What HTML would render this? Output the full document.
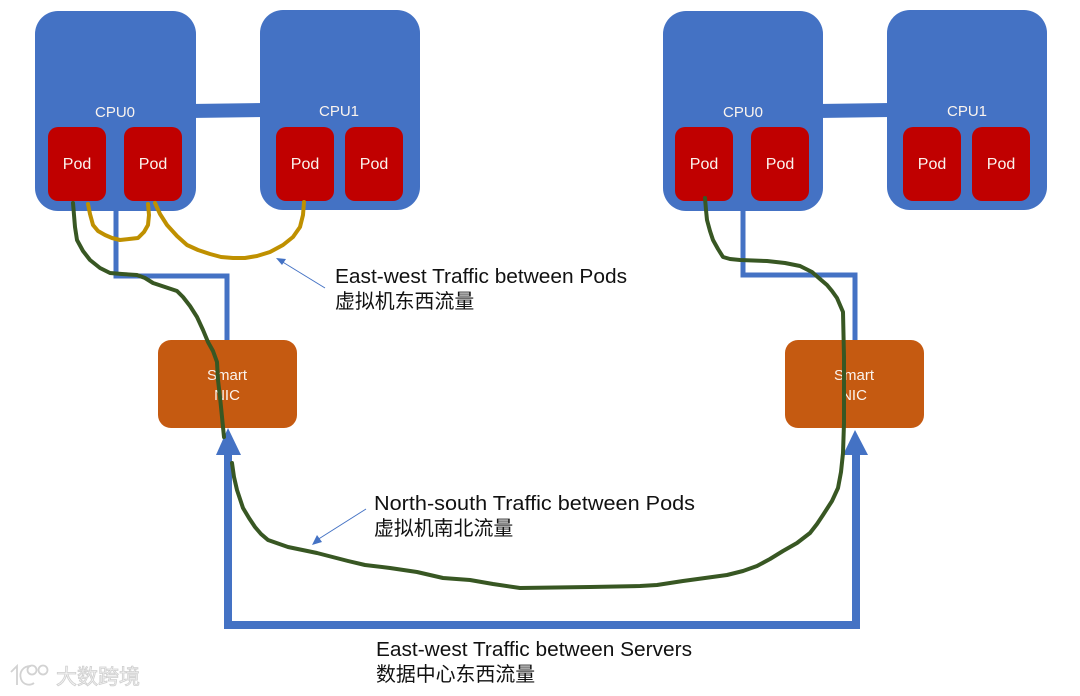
<!DOCTYPE html>
<html>
<head>
<meta charset="utf-8">
<style>
html,body{margin:0;padding:0;background:#fff}
svg{display:block;font-family:"Liberation Sans","Noto Sans CJK SC",sans-serif}
.w{fill:#fbf4ee;font-size:15px;text-anchor:middle}
.p{fill:#fbf4ee;font-size:16px;text-anchor:middle}
.l{fill:#111;font-size:20px}
.c{fill:#111;font-size:19.9px}
</style>
</head>
<body>
<svg width="1080" height="696" viewBox="0 0 1080 696" xmlns="http://www.w3.org/2000/svg">
<rect width="1080" height="696" fill="#fff"/>
<g fill="#4472C4">
<polygon points="190,104 265,103 265,117 190,118"/>
<polygon points="818,104 892,103 892,117 818,118"/>
<rect x="35" y="11" width="161" height="200" rx="23"/>
<rect x="260" y="10" width="160" height="200" rx="23"/>
<rect x="663" y="11" width="160" height="200" rx="23"/>
<rect x="887" y="10" width="160" height="200" rx="23"/>
</g>
<g fill="#C00000">
<rect x="48" y="127" width="58" height="74" rx="10"/>
<rect x="124" y="127" width="58" height="74" rx="10"/>
<rect x="276" y="127" width="58" height="74" rx="10"/>
<rect x="345" y="127" width="58" height="74" rx="10"/>
<rect x="675" y="127" width="58" height="74" rx="10"/>
<rect x="751" y="127" width="58" height="74" rx="10"/>
<rect x="903" y="127" width="58" height="74" rx="10"/>
<rect x="972" y="127" width="58" height="74" rx="10"/>
</g>
<g fill="none" stroke="#4472C4" stroke-width="5">
<polyline points="116,211 116,276 227,276 227,340"/>
<polyline points="743,211 743,275 855,275 855,340"/>
</g>
<g fill="#C55A11">
<rect x="158" y="340" width="139" height="88" rx="13"/>
<rect x="785" y="340" width="139" height="88" rx="13"/>
</g>
<g>
<text class="w" x="115" y="117">CPU0</text>
<text class="w" x="339" y="116">CPU1</text>
<text class="w" x="743" y="117">CPU0</text>
<text class="w" x="967" y="116">CPU1</text>
<text class="p" x="77" y="169">Pod</text>
<text class="p" x="153" y="169">Pod</text>
<text class="p" x="305" y="169">Pod</text>
<text class="p" x="374" y="169">Pod</text>
<text class="p" x="704" y="169">Pod</text>
<text class="p" x="780" y="169">Pod</text>
<text class="p" x="932" y="169">Pod</text>
<text class="p" x="1001" y="169">Pod</text>
<text class="w" x="227" y="380">Smart</text>
<text class="w" x="227" y="400">NIC</text>
<text class="w" x="854" y="380">Smart</text>
<text class="w" x="854" y="400">NIC</text>
</g>
<polyline points="228,450 228,625 856,625 856,450" fill="none" stroke="#4472C4" stroke-width="8"/>
<polygon points="228,428 216,455 241,455" fill="#4472C4"/>
<polygon points="855,430 843,455 868,455" fill="#4472C4"/>
<g fill="none" stroke="#BF9000" stroke-width="4" stroke-linejoin="round" stroke-linecap="round">
<polyline points="88,204 90,214 93,225 98,231 105,235 112,238 120,240 129,239 138,238 144,232 148,225 149,215 148,204"/>
<polyline points="155,203 160,214 167,225 177,236 187,245 198,250 210,254 221,257 233,258 245,258 257,256 270,252 283,245 293,237 300,227 303,215 304,202"/>
</g>
<g fill="none" stroke="#385723" stroke-width="4" stroke-linejoin="round" stroke-linecap="round">
<polyline points="73,203 74,215 75,227 77,240 83,251 90,260 100,268 110,273 122,274 137,275 145,278 153,283 165,287 177,291 183,297 190,306 197,317 203,330 208,342 213,351 217,362 218,380 220,397 222,417 224,437"/>
<polyline points="232,463 234,477 237,490 243,508 249,518 255,527 261,534 268,540 288,547 317,553 348,561 365,565 390,568 417,572 443,578 470,580 493,584 520,588 590,587 640,586 657,585 683,581 705,578 727,575 743,571 757,566 770,559 783,551 797,543 810,533 817,524 823,515 832,501 838,488 841,472 843,453"/>
<polyline points="705,198 706,210 707,220 710,231 713,240 718,249 723,257 730,259 740,260 767,261 785,263 800,266 812,272 820,279 827,285 832,291 837,298 843,312 844,357 844,423 843,453"/>
</g>
<g stroke="#4472C4" stroke-width="1" fill="#4472C4">
<line x1="325" y1="288" x2="281" y2="261"/>
<polygon points="276,258 286,259 282,265" stroke="none"/>
<line x1="366" y1="509" x2="317" y2="540"/>
<polygon points="312,545 317,535 322,542" stroke="none"/>
</g>
<text class="l" x="335" y="283" textLength="292" lengthAdjust="spacingAndGlyphs">East-west Traffic between Pods</text>
<text class="c" x="335" y="308">虚拟机东西流量</text>
<text class="l" x="374" y="510" textLength="321" lengthAdjust="spacingAndGlyphs">North-south Traffic between Pods</text>
<text class="c" x="374" y="535">虚拟机南北流量</text>
<text class="l" x="376" y="656" textLength="316" lengthAdjust="spacingAndGlyphs">East-west Traffic between Servers</text>
<text class="c" x="376" y="681">数据中心东西流量</text>
<g fill="none" stroke="#d2d2d2" stroke-width="1.8">
<path d="M11 672 L17 666 L17 685"/>
<path d="M31 666 C22 666 19 673 21 679 C23 685 30 686 34 683"/>
<circle cx="32" cy="670" r="4.5"/>
<circle cx="43" cy="670" r="4.5"/>
</g>
<text x="56" y="684" font-size="21" fill="#f4f4f4" stroke="#cfcfcf" stroke-width="0.8" textLength="84" lengthAdjust="spacingAndGlyphs">大数跨境</text>
</svg>
</body>
</html>
